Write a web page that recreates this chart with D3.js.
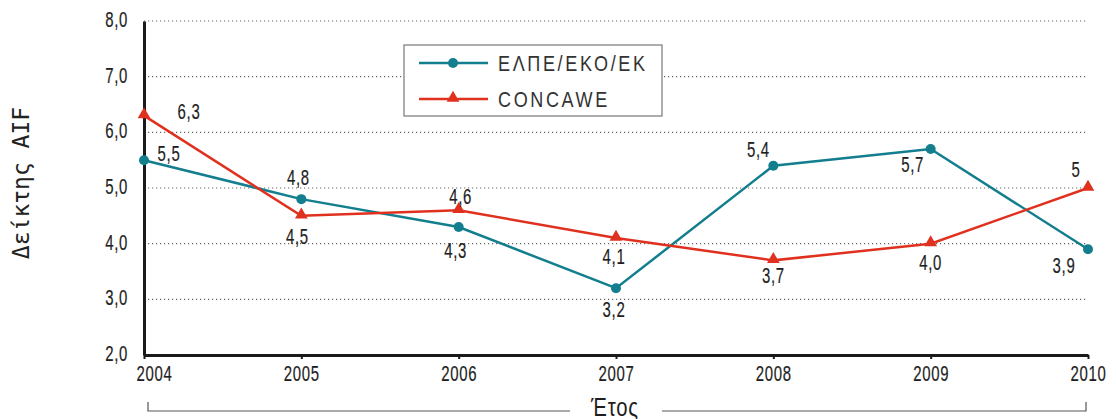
<!DOCTYPE html>
<html>
<head>
<meta charset="utf-8">
<script src="https://cdn.jsdelivr.net/npm/d3@7"></script>
<style>
  body { margin: 0; background: #fff; }
  svg { display: block; }
  .num { font-family: "Liberation Sans", Arial, sans-serif; font-size: 22px; fill: #1e1e1e; stroke: #1e1e1e; stroke-width: 0.2px; letter-spacing: 1px; }
  .mono { font-family: "DejaVu Sans Mono", monospace; fill: #222; }
</style>
</head>
<body>
<div id="chart"></div>
<script>
// data
let years = ["2004", "2005", "2006", "2007", "2008", "2009", "2010"];
let elpe = [5.5, 4.8, 4.3, 3.2, 5.4, 5.7, 3.9];
let concawe = [6.3, 4.5, 4.6, 4.1, 3.7, 4.0, 5.0];
let elpeLabels = ["5,5", "4,8", "4,3", "3,2", "5,4", "5,7", "3,9"];
let concaweLabels = ["6,3", "4,5", "4,6", "4,1", "3,7", "4,0", "5"];
let yTicks = [2, 3, 4, 5, 6, 7, 8];
let seriesNames = ["ΕΛΠΕ/ΕΚΟ/ΕΚ", "CONCAWE"];

// label placement (dx, dy from the point)
let elpeOffsets = [[25, 1], [-3, -14], [-3, 31], [-2, 29], [-15, -9], [-18, 23], [-24, 24]];
let concaweOffsets = [[45, 3], [-4, 28], [2, -6], [-2, 26], [0, 23], [0, 26], [-12, -11]];

// horizontal squeeze to imitate the condensed font of the original
function squeeze(sx) {
  return function (sel) {
    sel.each(function () {
      let t = d3.select(this);
      let x0 = +(t.attr("x") || 0);
      t.attr("x", x0 / sx).attr("transform", "scale(" + sx + ",1)");
    });
  };
}

function drawChart() {
  let W = 1116, H = 419;
  let teal = "#127e8e", red = "#e0311f";
  let SX = 0.68;

  let svg = d3.select("#chart")
    .append("svg")
    .attr("width", W)
    .attr("height", H);

  let x = d3.scalePoint().domain(years).range([144, 1088]);
  let y = d3.scaleLinear().domain([2, 8]).range([355, 21]);

  // dotted gridlines
  svg.append("g")
    .selectAll("line")
    .data(yTicks.filter(d => d > 2))
    .enter().append("line")
    .attr("x1", x(years[0]))
    .attr("x2", x(years[years.length - 1]))
    .attr("y1", d => y(d))
    .attr("y2", d => y(d))
    .attr("stroke", "#666")
    .attr("stroke-width", 1.2)
    .attr("stroke-dasharray", "1.2,2.8");

  // y axis
  let yAxis = svg.append("g")
    .attr("transform", "translate(" + x(years[0]) + ",0)")
    .call(d3.axisLeft(y).tickValues(yTicks).tickSize(0).tickPadding(16)
      .tickFormat(d => d.toFixed(1).replace(".", ",")));
  yAxis.select(".domain").attr("stroke", "#1a1a1a").attr("stroke-width", 3);
  yAxis.selectAll("text").attr("class", "num").attr("dy", "0.25em")
    .attr("fill", null).attr("font-size", null).attr("font-family", null)
    .call(squeeze(SX));

  // x axis
  let xAxis = svg.append("g")
    .attr("transform", "translate(0," + y(2) + ")")
    .call(d3.axisBottom(x).tickSize(4).tickSizeOuter(0).tickPadding(6));
  xAxis.select(".domain").attr("stroke", "#1a1a1a").attr("stroke-width", 3);
  xAxis.selectAll(".tick line").attr("stroke", "#1a1a1a").attr("stroke-width", 2);
  xAxis.selectAll("text").attr("class", "num")
    .attr("fill", null).attr("font-size", null).attr("font-family", null)
    .attr("x", (d, i) => i === 0 ? 10 : 0)   // first year nudged clear of the "2,0" tick
    .call(squeeze(SX));

  // y title
  svg.append("text")
    .attr("class", "mono")
    .attr("transform", "translate(29,183) rotate(-90)")
    .attr("text-anchor", "middle")
    .style("font-size", "23px")
    .text("Δείκτης AIF");

  // bracket with x title
  let br = svg.append("g").attr("stroke", "#555").attr("stroke-width", 1.2).attr("fill", "none");
  br.append("path").attr("d", "M148,402 V411 H570");
  br.append("path").attr("d", "M662,411 H1086 V402");
  svg.append("text")
    .attr("class", "num")
    .attr("x", 615)
    .attr("y", 416)
    .attr("text-anchor", "middle")
    .style("font-size", "26px")
    .style("stroke-width", "0px")
    .text("Έτος")
    .call(squeeze(0.78));

  let line = d3.line()
    .x((d, i) => x(years[i]))
    .y(d => y(d));

  let tri = d3.symbol().type(d3.symbolTriangle).size(70);

  // ELPE series
  svg.append("path")
    .datum(elpe)
    .attr("d", line)
    .attr("fill", "none")
    .attr("stroke", teal)
    .attr("stroke-width", 2.5);
  svg.append("g")
    .selectAll("circle")
    .data(elpe)
    .enter().append("circle")
    .attr("cx", (d, i) => x(years[i]))
    .attr("cy", d => y(d))
    .attr("r", 5)
    .attr("fill", teal);

  // CONCAWE series
  svg.append("path")
    .datum(concawe)
    .attr("d", line)
    .attr("fill", "none")
    .attr("stroke", red)
    .attr("stroke-width", 2.5);
  svg.append("g")
    .selectAll("path")
    .data(concawe)
    .enter().append("path")
    .attr("d", tri)
    .attr("transform", (d, i) => "translate(" + x(years[i]) + "," + (y(d) - 1) + ")")
    .attr("fill", red);

  // value labels
  svg.append("g")
    .selectAll("text")
    .data(elpe)
    .enter().append("text")
    .attr("class", "num")
    .attr("text-anchor", "middle")
    .attr("x", (d, i) => x(years[i]) + elpeOffsets[i][0])
    .attr("y", (d, i) => y(d) + elpeOffsets[i][1])
    .text((d, i) => elpeLabels[i])
    .call(squeeze(SX));
  svg.append("g")
    .selectAll("text")
    .data(concawe)
    .enter().append("text")
    .attr("class", "num")
    .attr("text-anchor", "middle")
    .attr("x", (d, i) => x(years[i]) + concaweOffsets[i][0])
    .attr("y", (d, i) => y(d) + concaweOffsets[i][1])
    .text((d, i) => concaweLabels[i])
    .call(squeeze(SX));

  // legend
  let lg = svg.append("g");
  lg.append("rect")
    .attr("x", 404).attr("y", 45)
    .attr("width", 258).attr("height", 71)
    .attr("fill", "#fff")
    .attr("stroke", "#777")
    .attr("stroke-width", 1.2);
  let colors = [teal, red];
  seriesNames.forEach(function (name, i) {
    let ly = 63 + i * 36;
    lg.append("line")
      .attr("x1", 419).attr("x2", 488)
      .attr("y1", ly).attr("y2", ly)
      .attr("stroke", colors[i]).attr("stroke-width", 2.5);
    if (i === 0) {
      lg.append("circle").attr("cx", 453).attr("cy", ly).attr("r", 5).attr("fill", teal);
    } else {
      lg.append("path").attr("d", tri).attr("transform", "translate(453," + (ly - 1) + ")").attr("fill", red);
    }
    lg.append("text")
      .attr("class", "num")
      .attr("x", 498)
      .attr("y", ly + 8)
      .style("font-size", "22px")
      .style("letter-spacing", "3.2px")
      .style("stroke-width", "0px")
      .style("fill", "#333")
      .text(name)
      .call(squeeze(0.82));
  });
}

drawChart();
</script>
</body>
</html>
